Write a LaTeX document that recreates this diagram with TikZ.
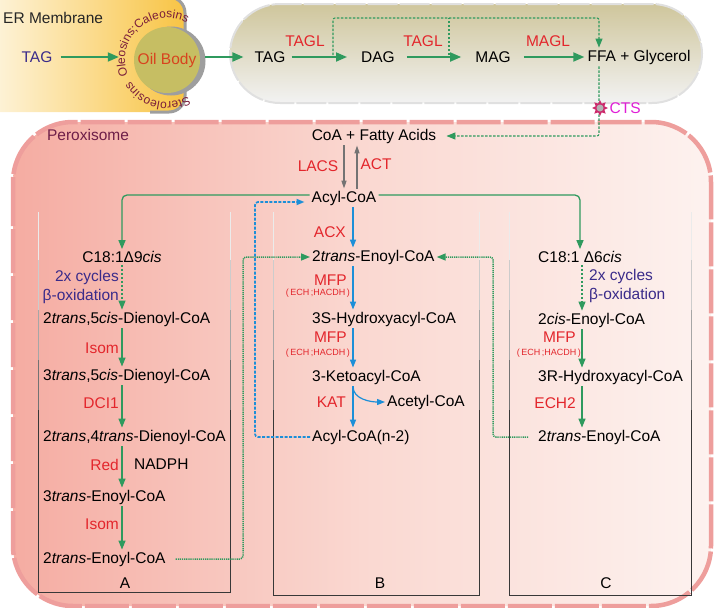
\documentclass[tikz,border=0pt]{standalone}
\usepackage{fontspec}
\setmainfont{Liberation Sans}
\usetikzlibrary{arrows.meta,positioning,shapes.geometric,decorations.text}
\definecolor{pgreen}{HTML}{2F9A5E}
\definecolor{pblue}{HTML}{1C8FD8}
\definecolor{pred}{HTML}{E3262C}
\definecolor{pindigo}{HTML}{3A2B8A}
\definecolor{pmaroon}{HTML}{7A1D3A}
\definecolor{ppurp}{HTML}{6E1E48}
\definecolor{pmag}{HTML}{E01ED6}
\definecolor{pstar}{HTML}{CC2A6C}
\definecolor{poil}{HTML}{C6BE63}
\definecolor{poilt}{HTML}{D8431E}
\definecolor{pyel}{HTML}{F8C444}
\definecolor{pkhaki}{HTML}{CFC69C}
\definecolor{psalmon}{HTML}{F5ACA2}
\definecolor{pmid}{HTML}{FAD8D1}
\definecolor{ppale}{HTML}{FDF2EF}
\definecolor{pedge}{HTML}{EE9E9C}
\begin{document}
\begin{tikzpicture}[x=1pt,y=-1pt,
  every node/.style={font=\fontsize{15.5}{19}\selectfont,inner sep=2pt},
  enz/.style={text=pred},
  ech/.style={text=pred,font=\fontsize{9}{10}\selectfont},
  cyc/.style={text=pindigo},
  garr/.style={draw=pgreen,line width=1.3pt,-{Triangle[length=9pt,width=7pt]}},
  gbig/.style={garr,line width=1.8pt,-{Triangle[length=11pt,width=9pt]}},
  gdash/.style={garr,line width=1.1pt,dash pattern=on 2.5pt off 1.5pt},
  gdot/.style={garr,line width=1.5pt,dash pattern=on 1.2pt off 0.9pt},
  barr/.style={draw=pblue,line width=1.2pt,-{Triangle[length=8pt,width=6pt]}},
  bdash/.style={barr,line width=1.7pt,dash pattern=on 3pt off 1.5pt},
  karr/.style={draw=black!55,line width=1.1pt,-{Triangle[length=8pt,width=5pt]}},
  curv/.style={decorate,decoration={text along path,text align=center,text color=pmaroon,text={#1}}}]
\useasboundingbox (0,0) rectangle (716,608);
\clip (0,0) rectangle (716,608);
\shade[left color=psalmon,right color=ppale,middle color=pmid,rounded corners=60pt] (13,122) rectangle (711,606);
\draw[pedge,line width=4.5pt,dash pattern=on 44pt off 3pt,rounded corners=60pt] (13,122) rectangle (711,606);
\shade[left color=white!90!pyel,right color=pyel,rounded corners=16pt] (-30,-3) rectangle (185,112);
\begin{scope}
\clip (150,-5) rectangle (200,120);
\draw[black!38,line width=3pt,rounded corners=16pt] (-30,-3) rectangle (185,112);
\end{scope}
\shade[top color=pkhaki,bottom color=black!5,rounded corners=50pt] (230,4) rectangle (702,103);
\draw[black!12,line width=2pt,dash pattern=on 30pt off 2pt,rounded corners=50pt] (230,4) rectangle (702,103);
\foreach \l/\r/\b in {38/230/592,273/479/595,509/691/595}{
  \foreach \t/\s/\c in {212/260/8,260/310/20,310/360/35,360/410/55}
    \draw[black!\c,line width=0.9pt] (\l,\t) -- (\l,\s) (\r,\t) -- (\r,\s);
  \draw[black!78,line width=0.9pt] (\l,410) -- (\l,\b) -- (\r,\b) -- (\r,410);
}
\fill[black!38] (171,61) circle (34.5);
\node[circle,fill=poil,minimum size=66pt,inner sep=0,text=poilt] (oil) at (167,60) {Oil Body};
\begin{scope}[y=1pt]
\path[curv={|\fontsize{12}{14}\selectfont|Oleosins;Caleosins}] (oil.center) ++(212:42) arc[start angle=212,end angle=52,radius=42];
\path[curv={|\fontsize{12}{14}\selectfont|Steroleosins}] (oil.center) ++(-42:42) arc[start angle=-42,end angle=-168,radius=42];
\end{scope}
\node[anchor=west,text=black!85] (erm) at (1,18) {ER Membrane};
\node[text=pindigo] (tag0) at (37,57) {TAG};
\draw[gbig,shorten <=6pt,shorten >=15pt] (tag0.east) -- (tag0.east -| oil.west);
\foreach \n/\x/\t in {tag1/270/TAG,dag/378/DAG,mag/493/MAG,ffa/639/FFA + Glycerol}
  \node (\n) at (\x,57) {\t};
\draw[gbig,shorten <=5pt,shorten >=9pt] (tag1.west -| oil.east) -- (tag1.west);
\foreach \a/\b/\s/\e in {tag1/dag/4/12,dag/mag/10/12,mag/ffa/11/1}
  \draw[gbig,shorten <=\s pt,shorten >=\e pt] (\a) -- (\b);
\foreach \n/\x/\t in {e1/305/TAGL,e2/423/TAGL,e3/548/MAGL}
  \node[enz] (\n) at (\x,41) {\t};
\coordinate (j1) at (333,55);
\coordinate (j2) at (449,55);
\coordinate (top) at (599,18);
\draw[gdash,rounded corners=2pt] (j1) |- (top) -- (ffa.north -| top);
\draw[gdash,-] (j2) -- (j2 |- top);
\node[text=ppurp] (perox) at (88,135) {Peroxisome};
\node (coa) at (374,136) {CoA + Fatty Acids};
\draw[gdash,rounded corners=2pt,shorten >=8pt] (ffa.south -| top) |- (coa.east);
\node[star,star points=8,star point ratio=1.7,fill=pstar,minimum size=16pt,inner sep=0] (cts) at (600,108) {};
\fill[black!30] (cts.center) circle (3.5);
\node[right=1pt of cts,text=pmag,inner sep=0] (ctsl) {CTS};
\node (acyl) at (344,198) {Acyl-CoA};
\draw[karr] (coa.south -| acyl.north) -- (acyl.north);
\draw[karr] ([xshift=13pt]acyl.north) -- ([xshift=13pt]acyl.north |- coa.south);
\node[enz] (lacs) at (318,166) {LACS};
\node[enz] (act) at (376,164) {ACT};
\node (a1) at (122,257) {C18:1Δ9\textit{cis}};
\foreach \n/\y/\t in {a2/319/{2\textit{trans},5\textit{cis}-Dienoyl-CoA},a3/376/{3\textit{trans},5\textit{cis}-Dienoyl-CoA},a4/437/{2\textit{trans},4\textit{trans}-Dienoyl-CoA},a5/497/{3\textit{trans}-Enoyl-CoA},a6/559/{2\textit{trans}-Enoyl-CoA}}
  \node[anchor=west] (\n) at (41,\y) {\t};
\draw[garr,rounded corners=5pt] ([yshift=3pt]acyl.west) -| (a1.north);
\draw[gdash] (a1.south) -- (a1.south |- a2.north);
\foreach \p/\q in {a2/a3,a3/a4,a4/a5,a5/a6}
  \draw[garr] (a1.south |- \p.south) -- (a1.south |- \q.north);
\node[cyc,anchor=east,align=right] (cyca) at (121,287) {2x cycles\\β-oxidation};
\foreach \n/\y/\t in {la1/348/Isom,la2/403/DCI1,la3/465/Red,la4/524/Isom}
  \node[enz,anchor=east] (\n) at (121,\y) {\t};
\node[anchor=west] (nadph) at (132,464) {NADPH};
\foreach \n/\y/\t in {b2/257/{2\textit{trans}-Enoyl-CoA},b3/319/3S-Hydroxyacyl-CoA,b4/377/3-Ketoacyl-CoA,b5/437/Acyl-CoA(n-2)}
  \node[anchor=west] (\n) at (310,\y) {\t};
\node[anchor=west] (acet) at (385,402) {Acetyl-CoA};
\coordinate (bx) at (353,0);
\foreach \p/\q in {acyl/b2,b2/b3,b3/b4,b4/b5}
  \draw[barr] (bx |- \p.south) -- (bx |- \q.north);
\draw[barr] (bx |- b4.south) .. controls +(0,13) and +(-14,0) .. (acet.west);
\node[enz,anchor=east] (acx) at (348,232) {ACX};
\node[enz,anchor=east] (m1) at (349,280) {MFP};
\node[ech,anchor=east] (m1x) at (352,293) {(\,ECH\,;HACDH\,)};
\node[enz,anchor=east] (m2) at (349,337) {MFP};
\node[ech,anchor=east] (m2x) at (352,353) {(\,ECH\,;HACDH\,)};
\node[enz,anchor=east] (kat) at (348,402) {KAT};
\coordinate (jb) at (255,202);
\draw[bdash,rounded corners=3pt,shorten >=5pt] (b5.west) -| (jb) -- ([yshift=-4pt]acyl.west);
\coordinate (ja) at (243,257);
\draw[gdot,rounded corners=3pt] ([xshift=8pt]a6.east) -| (ja) -- (b2.west);
\node[anchor=west] (c6) at (536,257) {C18:1 Δ6\textit{cis}};
\foreach \n/\y/\t in {c2/320/{2\textit{cis}-Enoyl-CoA},c3/377/3R-Hydroxyacyl-CoA,c4/437/{2\textit{trans}-Enoyl-CoA}}
  \node[anchor=west] (\n) at (536,\y) {\t};
\draw[garr,rounded corners=5pt] ([yshift=3pt]acyl.east) -| (c6.north);
\coordinate (cx) at (582,0);
\draw[gdash] (cx |- c6.south) -- (cx |- c2.north);
\foreach \p/\q in {c2/c3,c3/c4}
  \draw[garr] (cx |- \p.south) -- (cx |- \q.north);
\node[cyc,anchor=west,align=left] (cycc) at (587,286) {2x cycles\\β-oxidation};
\node[enz,anchor=east] (m3) at (578,337) {MFP};
\node[ech,anchor=east] (m3x) at (583,353) {(\,ECH\,;HACDH\,)};
\node[enz,anchor=east] (ech2) at (578,403) {ECH2};
\coordinate (jc) at (493,257);
\draw[gdot,rounded corners=3pt] ([xshift=-8pt]c4.west) -| (jc) -- (b2.east);
\foreach \n/\x in {A/125,B/380,C/606}
  \node (box\n) at (\x,583) {\n};
\end{tikzpicture}
\end{document}
